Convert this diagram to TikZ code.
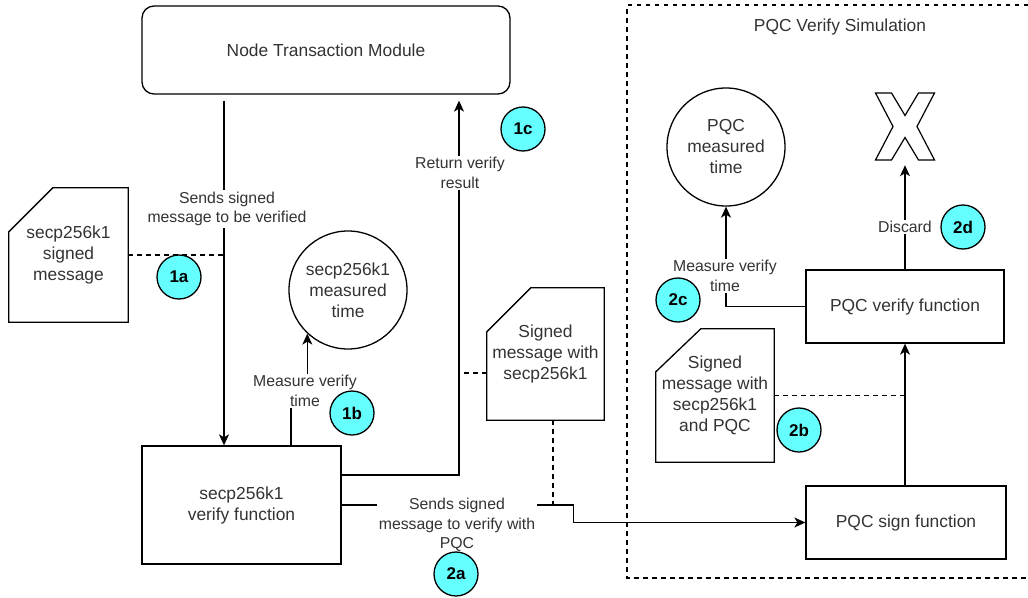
\documentclass[tikz,border=0pt]{standalone}
\usepackage{fontspec}
\setmainfont{Liberation Sans}
\usetikzlibrary{arrows.meta,calc}

\definecolor{txt}{HTML}{333333}
\definecolor{badgefill}{HTML}{66FFFF}

\tikzset{
  conn/.style={line width=1.3pt, draw=black},
  arr/.style={conn, -{Stealth[length=11pt,width=10pt,inset=3pt]}},
  dashline/.style={line width=1.1pt, draw=black, dash pattern=on 4.5pt off 4.5pt},
  boxtext/.style={font=\fontsize{17.4}{21}\selectfont, text=txt, align=center},
  procbox/.style={boxtext, draw=black, line width=1.3pt, inner sep=0pt},
  timecircle/.style={boxtext, circle, draw=black, line width=1.3pt, inner sep=0pt},
  cardtext/.style={boxtext, inner sep=0pt},
  elabel/.style={font=\fontsize{15.8}{19.6}\selectfont, text=txt, align=center, fill=white, inner sep=1.5pt},
  badge/.style={circle, draw=black, line width=1.3pt, fill=badgefill, minimum size=44pt,
                inner sep=0pt, font=\fontsize{17}{17}\bfseries\selectfont},
}

\begin{document}
\begin{tikzpicture}[x=1pt,y=-1pt]
\useasboundingbox (0,0) rectangle (1028,597);

% simulation container (open on the right, runs past the page edge)
\coordinate (simtl) at (627,5);
\coordinate (simbl) at (627,578);
\draw[dashline] (1028,5) -- (simtl) -- (simbl) -- (1028,578);
\node[boxtext] (simtitle) at (840,27) {PQC Verify Simulation};

% process boxes
\node[procbox, rounded corners=12pt, minimum width=368pt, minimum height=88pt] (ntm) at (326,50) {Node Transaction Module};
\node[procbox, minimum width=199pt, minimum height=118pt] (secv) at (241.5,505) {secp256k1\\verify function};
\node[procbox, minimum width=198pt, minimum height=73pt] (pqcv) at (905,306.5) {PQC verify function};
\node[procbox, minimum width=200pt, minimum height=73pt] (pqcs) at (906,522.5) {PQC sign function};

% timing results
\node[timecircle, minimum size=118pt] (c1) at (348,290) {secp256k1\\measured\\time};
\node[timecircle, minimum size=118pt] (c2) at (726,147) {PQC\\measured\\time};

% message cards (clipped top-left corner)
\node[cardtext, minimum width=119pt, minimum height=134pt] (card1) at (68.5,255) {secp256k1\\signed\\message};
\draw[conn] (card1.south west) -- (card1.south east) -- (card1.north east)
  -- ([xshift=44pt]card1.north west) -- ([yshift=-44pt]card1.north west) -- cycle;

\node[cardtext, minimum width=117pt, minimum height=132pt] (card2) at (545.5,354) {Signed\\message with\\secp256k1};
\draw[conn] (card2.south west) -- (card2.south east) -- (card2.north east)
  -- ([xshift=44pt]card2.north west) -- ([yshift=-44pt]card2.north west) -- cycle;

\node[cardtext, minimum width=118pt, minimum height=133pt] (card3) at (715,395.5) {Signed\\message with\\secp256k1\\and PQC};
\draw[conn] (card3.south west) -- (card3.south east) -- (card3.north east)
  -- ([xshift=45pt]card3.north west) -- ([yshift=-43pt]card3.north west) -- cycle;

% discard mark
\node[minimum width=59pt, minimum height=67pt, inner sep=0pt] (xm) at (905,126.5) {};
\draw[line width=1.2pt, line join=miter, shift={(xm.center)}]
  (-29.5,-33.5) -- (-13.5,-33.5) -- (0,-11) -- (13.5,-33.5) -- (29.5,-33.5) -- (12,0)
  -- (29.5,33.5) -- (13.5,33.5) -- (0,11) -- (-13.5,33.5) -- (-29.5,33.5) -- (-12,0) -- cycle;

% --- connectors ---
% request from the node module down to secp256k1 verification
\coordinate (fwdtop) at ([xshift=-102pt,yshift=-6pt]ntm.south);
\coordinate (fwdend) at ([xshift=-17.5pt]secv.north);
\draw[arr] (fwdtop) -- (fwdend);
\draw[dashline] (card1.east) -- (card1.east -| fwdend);

% result returned to the node module
\coordinate (retstart) at ([yshift=30pt]secv.east);
\coordinate (retend) at ([xshift=133pt,yshift=-6pt]ntm.south);
\draw[arr] (retstart) -| (retend);
\coordinate (card2link) at ([yshift=-19pt]card2.west);
\draw[dashline] (card2link) -- (card2link -| retend);

% secp256k1 timing
\coordinate (mstart) at ([xshift=49.5pt]secv.north);
\draw[arr] (mstart) |- ($(c1.227)+(0,68)$) -- (c1.227);

% hand-off to PQC signing
\coordinate (kink) at ([xshift=232pt]secv.east);
\draw[arr] (secv.east) -- (kink) |- (pqcs.west);
\coordinate (card2foot) at ([xshift=7.5pt]card2.south);
\draw[dashline] (card2foot) -- (card2foot |- secv.east);

% PQC stages
\draw[arr] (pqcs.north -| pqcv.south) -- (pqcv.south);
\draw[dashline] (card3.east) -- (card3.east -| pqcv.south);
\draw[arr] (pqcv.west) -| (c2.south);
\draw[arr] (pqcv.north) -- ([yshift=-5pt]xm.south);

% connector labels
\node[elabel] (lfwd) at (227,209) {Sends signed\\message to be verified};
\node[elabel] (lret) at (460,173) {Return verify\\result};
\node[elabel] (lm1) at (305,391) {Measure verify\\time};
\node[elabel] (lpqc) at (457,525) {Sends signed\\message to verify with\\PQC};
\node[elabel] (lm2) at (725,276) {Measure verify\\time};
\node[elabel] (ldis) at (905,227) {Discard};

% step badges
\node[badge] (b1a) at (179,277) {1a};
\node[badge] (b1b) at (352,413) {1b};
\node[badge] (b1c) at (523,129) {1c};
\node[badge] (b2a) at (456,574) {2a};
\node[badge] (b2b) at (799,430) {2b};
\node[badge] (b2c) at (678,300) {2c};
\node[badge] (b2d) at (963,227) {2d};
\end{tikzpicture}
\end{document}
